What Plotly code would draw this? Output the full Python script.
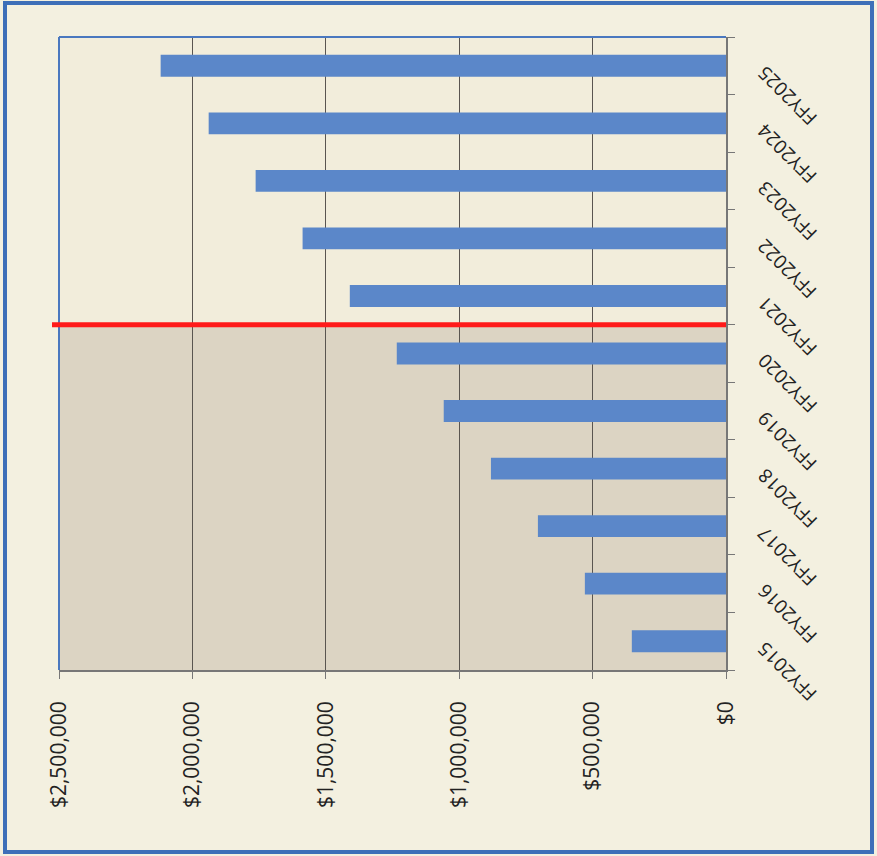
import plotly.graph_objects as go

categories = ["FFY2015", "FFY2016", "FFY2017", "FFY2018", "FFY2019", "FFY2020",
              "FFY2021", "FFY2022", "FFY2023", "FFY2024", "FFY2025"]
values = [353000, 529000, 705000, 881000, 1058000, 1234000,
          1410000, 1587000, 1763000, 1939000, 2119000]
tick_vals = [0, 500000, 1000000, 1500000, 2000000, 2500000]
tick_text = ["$0", "$500,000", "$1,000,000", "$1,500,000", "$2,000,000", "$2,500,000"]

fig = go.Figure(go.Bar(
    y=categories, x=values, orientation="h",
    marker=dict(color="#5b87c9", line=dict(width=0)),
    width=0.38,
))

W, H = 877, 856
L, R, T, B = 59, 726, 37, 670
pw, ph = R - L, B - T

def px(x):
    return (x - L) / pw

def py(y):
    return (B - y) / ph

FONT = "Open Sans, Liberation Sans, sans-serif"

annotations = [
    dict(xref="paper", yref="y", x=px(787), y=c, yshift=-30,
         text=c, showarrow=False, textangle=-135,
         xanchor="center", yanchor="middle",
         font=dict(size=19, family=FONT, color="#222222"))
    for c in categories
]

fig.update_layout(
    width=W, height=H,
    margin=dict(l=L, r=W - R, t=T, b=H - B),
    paper_bgcolor="#f3f0e0",
    plot_bgcolor="#f2eddb",
    showlegend=False,
    font=dict(family=FONT, color="#222222"),
    xaxis=dict(
        range=[2500000, 0], tickvals=tick_vals, ticktext=tick_text,
        tickangle=-90, tickfont=dict(size=21),
        showgrid=True, gridcolor="#5a5550", gridwidth=1.2,
        showline=True, linecolor="#777777", linewidth=1.5,
        ticks="outside", ticklen=7, tickcolor="#777777",
        ticklabelstandoff=14,
        zeroline=False, fixedrange=True,
    ),
    yaxis=dict(
        side="right", categoryorder="array", categoryarray=categories,
        showticklabels=False,
        showline=True, linecolor="#777777", linewidth=1.5,
        ticks="outside", ticklen=7, tickcolor="#777777", tickson="boundaries",
        showgrid=False, range=[-0.5, 10.5], fixedrange=True,
    ),
    annotations=annotations,
    shapes=[
        # shaded historical region (FFY2015-FFY2020)
        dict(type="rect", xref="paper", yref="paper", x0=0, x1=1, y0=0, y1=6 / 11,
             fillcolor="#dcd4c3", line=dict(width=0), layer="below"),
        # plot left and top border (blue)
        dict(type="line", xref="paper", yref="paper", x0=0, x1=0, y0=0, y1=1,
             line=dict(color="#4a78bf", width=2)),
        dict(type="line", xref="paper", yref="paper", x0=0, x1=1, y0=1, y1=1,
             line=dict(color="#4a78bf", width=2)),
        # red divider
        dict(type="line", xref="paper", yref="y", x0=px(52), x1=1, y0=5.5, y1=5.5,
             line=dict(color="#ff1a1a", width=5)),
        # outer blue frame
        dict(type="rect", xref="paper", yref="paper",
             x0=px(5), x1=px(872), y0=py(852), y1=py(3),
             line=dict(color="#3d6fb8", width=4), fillcolor="rgba(0,0,0,0)"),
    ],
)

fig.write_html(
    "out.html",
    config={"displayModeBar": False},
    post_script="document.body.style.margin='0';document.body.style.background='#f3f0e0';",
)
